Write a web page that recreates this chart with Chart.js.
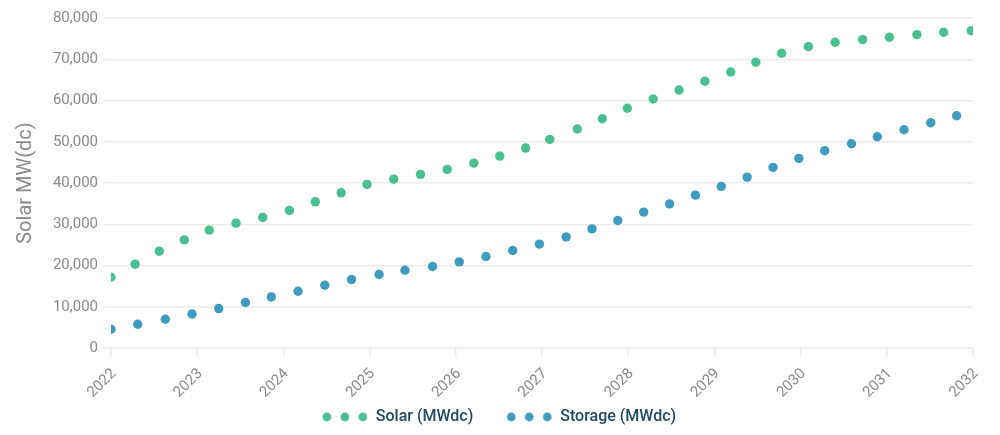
<!DOCTYPE html>
<html>
<head>
<meta charset="utf-8">
<script src="https://cdn.jsdelivr.net/npm/chart.js@4/dist/chart.umd.min.js"></script>
<style>
  html, body { margin: 0; padding: 0; background: #fff; }
  #wrap { width: 1000px; height: 435px; }
</style>
</head>
<body>
<div id="wrap"><canvas id="result_chart"></canvas></div>
<script>
// values
const solarYears = [2022.00, 2022.28, 2022.56, 2022.85, 2023.14, 2023.45, 2023.76, 2024.07, 2024.37, 2024.67,
    2024.97, 2025.28, 2025.59, 2025.90, 2026.21, 2026.51, 2026.81, 2027.09, 2027.41, 2027.70,
    2027.99, 2028.29, 2028.59, 2028.89, 2029.19, 2029.48, 2029.78, 2030.09, 2030.40, 2030.72,
    2031.03, 2031.35, 2031.66, 2031.98];
const solarValues = [17160, 20320, 23470, 26210, 28570, 30270, 31650, 33350, 35440, 37620,
    39660, 40950, 42090, 43300, 44830, 46530, 48470, 50580, 53080, 55580,
    58110, 60360, 62550, 64660, 66920, 69270, 71460, 73060, 74130, 74760,
    75340, 75970, 76550, 76940];

const storageYears = [2022.00, 2022.31, 2022.63, 2022.94, 2023.25, 2023.56, 2023.86, 2024.17, 2024.48, 2024.79,
    2025.11, 2025.41, 2025.73, 2026.04, 2026.35, 2026.66, 2026.97, 2027.28, 2027.58, 2027.88,
    2028.18, 2028.48, 2028.78, 2029.08, 2029.38, 2029.68, 2029.98, 2030.28, 2030.59, 2030.89,
    2031.20, 2031.51, 2031.81];
const storageValues = [4540, 5750, 6970, 8250, 9560, 11020, 12380, 13760, 15220, 16600,
    17820, 18860, 19760, 20870, 22180, 23640, 25170, 26940, 28880, 30920,
    32940, 34950, 37060, 39180, 41430, 43790, 45970, 47820, 49520, 51210,
    52910, 54610, 56310];

const seriesLabels = ['Solar (MWdc)', 'Storage (MWdc)'];
const yTitle = 'Solar MW(dc)';

const solarColor = '#4abf91';
const storageColor = '#3f9cbe';

// three little dots used as legend marker, with empty room on the left
// so the two legend entries sit further apart
const legendGap = 25;
function threeDots(color) {
    const c = document.createElement('canvas');
    c.width = 46 + legendGap;
    c.height = 10;
    const g = c.getContext('2d');
    g.fillStyle = color;
    for (const cx of [5, 23, 41]) {
        g.beginPath();
        g.arc(legendGap + cx, 5, 4.4, 0, Math.PI * 2);
        g.fill();
    }
    return c;
}

function toPoints(xs, ys) {
    return xs.map((x, i) => ({x, y: ys[i]}));
}

const data = {
    datasets: [{
        label: seriesLabels[0],
        data: toPoints(solarYears, solarValues),
        backgroundColor: solarColor,
        borderColor: solarColor,
        pointRadius: 4.7,
        pointBorderWidth: 0,
        showLine: false
    }, {
        label: seriesLabels[1],
        data: toPoints(storageYears, storageValues),
        backgroundColor: storageColor,
        borderColor: storageColor,
        pointRadius: 4.7,
        pointBorderWidth: 0,
        showLine: false
    }]
};

const gridColor = '#ececec';

const config = {
    type: 'scatter',
    data,
    options: {
        responsive: true,
        maintainAspectRatio: false,
        animation: false,
        layout: {padding: {top: 18, right: 27, left: 0, bottom: 0}},
        plugins: {
            tooltip: {enabled: false},
            legend: {
                position: 'bottom',
                labels: {
                    usePointStyle: true,
                    pointStyleWidth: 46 + legendGap,
                    padding: 8,
                    color: '#204a67',
                    font: {family: 'Roboto', size: 16, weight: '500'},
                    generateLabels: chart => chart.data.datasets.map((ds, i) => ({
                        text: ds.label,
                        pointStyle: threeDots(ds.backgroundColor),
                        fillStyle: ds.backgroundColor,
                        strokeStyle: ds.backgroundColor,
                        lineWidth: 0,
                        fontColor: '#204a67',
                        datasetIndex: i
                    }))
                }
            }
        },
        scales: {
            x: {
                type: 'linear',
                min: 2022,
                max: 2032,
                ticks: {
                    stepSize: 1,
                    minRotation: 45,
                    maxRotation: 45,
                    padding: 9,
                    labelOffset: 3,
                    color: '#8a8a8a',
                    font: {family: 'Roboto', size: 15},
                    callback: v => String(v)
                },
                grid: {drawOnChartArea: false, drawTicks: true, tickLength: 8, color: gridColor, lineWidth: 1.5},
                border: {display: true, color: gridColor, width: 1.5},
                afterFit: scale => { scale.height = 53; }
            },
            y: {
                min: 0,
                max: 80000,
                ticks: {
                    stepSize: 10000,
                    padding: 5,
                    color: '#8a8a8a',
                    font: {family: 'Roboto', size: 15},
                    callback: v => v.toLocaleString('en-US')
                },
                grid: {color: gridColor, lineWidth: 1.5, tickLength: 8},
                border: {display: false},
                title: {
                    display: true,
                    text: yTitle,
                    color: '#8a8a8a',
                    padding: {top: 14, bottom: 0},
                    font: {family: 'Roboto', size: 20}
                },
                afterFit: scale => { scale.width = 111; }
            }
        }
    }
};

document.addEventListener('DOMContentLoaded', () => {
    const ctx = document.getElementById('result_chart').getContext('2d');
    new Chart(ctx, config);
});
</script>
</body>
</html>
